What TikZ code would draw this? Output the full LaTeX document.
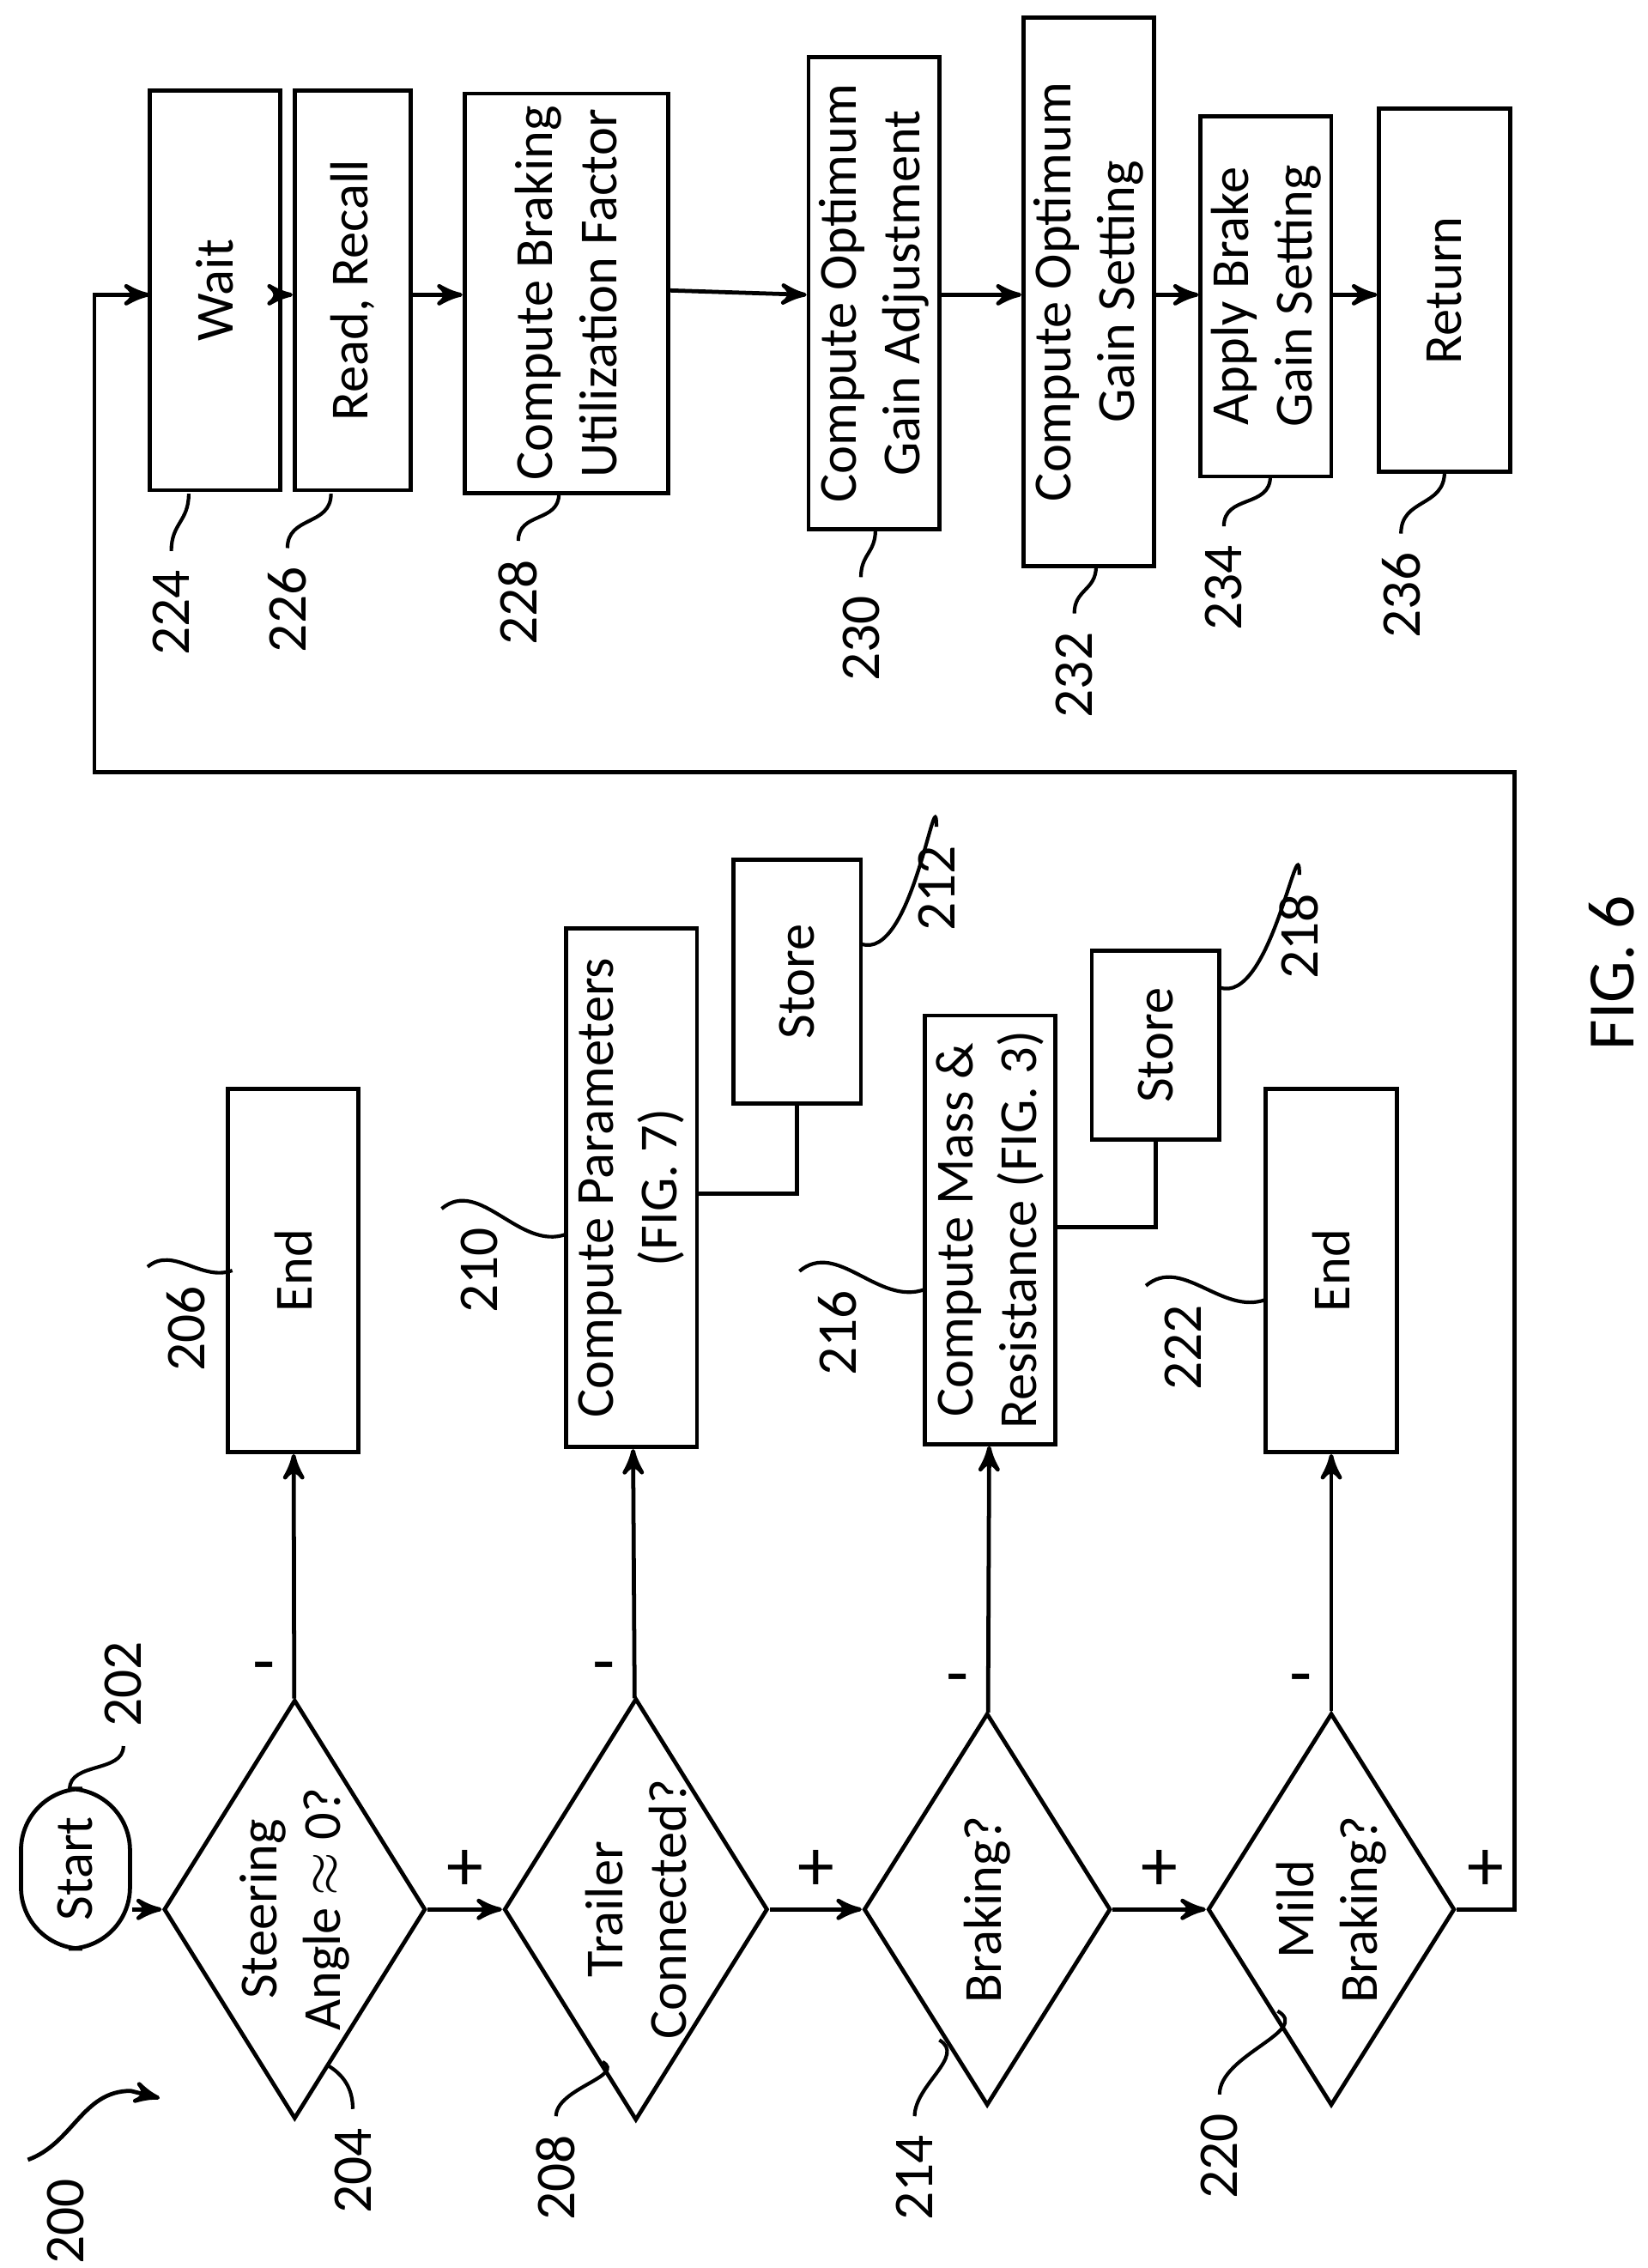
\documentclass[tikz,border=0pt]{standalone}
\usepackage{fontspec}
\setmainfont{Carlito}
\usetikzlibrary{arrows,shapes.geometric}

\tikzset{
  box/.style={draw, rotate=90, align=center, inner sep=2pt},
  dec/.style={draw, diamond, rotate=90, align=center, inner sep=0pt, aspect=1.6,
    minimum width=2.7cm, minimum height=1.7cm},
  lbl/.style={rotate=90, font=\fontsize{11}{13}\selectfont},
  lead/.style={-, line width=0.7pt},
}

\begin{document}
\begin{tikzpicture}[x=0.01cm, y=-0.01cm, ->, >=stealth', line width=0.8pt,
  font=\fontsize{10.5}{12.5}\selectfont]
	\useasboundingbox (0,0) rectangle (1135,1562);
	% left column
	\node[box, rounded corners=12pt, minimum width=1.1cm, minimum height=0.75cm] (start) at (52,1287) {Start};
	\node[dec] (d204) at (203,1315) {Steering\\Angle $\approx$ 0?};
	\node[dec] (d208) at (438,1315) {Trailer\\Connected?};
	\node[dec] (d214) at (680,1315) {Braking?};
	\node[dec] (d220) at (917,1315) {Mild\\Braking?};
	\node[box, minimum width=2.5cm, minimum height=0.9cm] (e206) at (202,875) {End};
	\node[box, minimum width=3.57cm, minimum height=0.9cm] (c210) at (435,818) {Compute Parameters\\(FIG. 7)};
	\node[box, minimum width=1.68cm, minimum height=0.88cm] (s212) at (549,676) {Store};
	\node[box, minimum width=2.95cm, minimum height=0.9cm] (c216) at (682,847) {Compute Mass \&\\Resistance (FIG. 3)};
	\node[box, minimum width=1.3cm, minimum height=0.88cm] (s218) at (796,720) {Store};
	\node[box, minimum width=2.5cm, minimum height=0.9cm] (e222) at (917,875) {End};

	\draw[->] (start.south |- d204.north) -- (d204.north);
	\draw[->] (d204) -- node[above, font=\Large] {+} (d208);
	\draw[->] (d208) -- node[above, font=\Large] {+} (d214);
	\draw[->] (d214) -- node[above, font=\Large] {+} (d220);
	\draw[->] (d204) -- node[pos=0.1, left, font=\Large] {-} (e206);
	\draw[->] (d208) -- node[pos=0.1, left, font=\Large] {-} (c210);
	\draw[->] (d214) -- node[pos=0.1, left, font=\Large] {-} (c216);
	\draw[->] (d220) -- node[pos=0.1, left, font=\Large] {-} (e222);
	\draw[-] (s212.west) -- (s212.west |- 0,822) -- (c210.south |- 0,822);
	\draw[-] (s218.west) -- (s218.west |- 0,845) -- (c216.south |- 0,845);
	\draw[->] (d220.south) -- node[above, font=\Large] {+} (1043,1315) -- (1043,532) -- (65,532) -- (65,203) -- (103,203);

	% right column
	\node[box, minimum width=2.75cm, minimum height=0.9cm] (w224) at (148,200) {Wait};
	\node[box, minimum width=2.75cm, minimum height=0.8cm] (r226) at (243,200) {Read, Recall};
	\node[box, minimum width=2.75cm, minimum height=1.4cm] (c228) at (390,202) {Compute Braking\\Utilization Factor};
	\node[box, minimum width=3.25cm, minimum height=0.9cm] (c230) at (602,202) {Compute Optimum\\Gain Adjustment};
	\node[box, minimum width=3.78cm, minimum height=0.9cm] (c232) at (750,201) {Compute Optimum\\Gain Setting};
	\node[box, minimum width=2.48cm, minimum height=0.9cm] (a234) at (872,204) {Apply Brake\\Gain Setting};
	\node[box, minimum width=2.5cm, minimum height=0.9cm] (r236) at (995,200) {Return};

	\draw[->] (w224.south |- 0,203) -- (r226.north |- 0,203);
	\draw[->] (r226.south |- 0,203) -- (c228.north |- 0,203);
	\draw[->] (c228.south |- 0,200) -- (c230.north |- 0,203);
	\draw[->] (c230.south |- 0,203) -- (c232.north |- 0,203);
	\draw[->] (c232.south |- 0,203) -- (a234.north |- 0,203);
	\draw[->] (a234.south |- 0,203) -- (r236.north |- 0,203);

	% reference numerals
	\node[lbl] (n224) at (118,422) {224};
	\node[lbl] (n226) at (198,420) {226};
	\node[lbl] (n228) at (357,415) {228};
	\node[lbl] (n230) at (593,440) {230};
	\node[lbl] (n232) at (740,465) {232};
	\node[lbl] (n234) at (843,405) {234};
	\node[lbl] (n236) at (965,410) {236};
	\draw[lead] (n224.east) to[out=90, in=-90, looseness=1.2] (130,340);
	\draw[lead] (n226.east) to[out=90, in=-90, looseness=1.2] (228,340);
	\draw[lead] (n228.east) to[out=90, in=-90, looseness=1.2] (385,340);
	\draw[lead] (n230.east) to[out=90, in=-90, looseness=1.2] (603,365);
	\draw[lead] (n232.east) to[out=90, in=-90, looseness=1.2] (755,390);
	\draw[lead] (n234.east) to[out=90, in=-90, looseness=1.2] (875,328);
	\draw[lead] (n236.east) to[out=90, in=-90, looseness=1.2] (995,325);

	\node[lbl] (n200) at (45,1530) {200};
	\node[lbl] (n202) at (85,1160) {202};
	\node[lbl] (n204) at (243,1495) {204};
	\node[lbl] (n208) at (383,1500) {208};
	\node[lbl] (n214) at (630,1500) {214};
	\node[lbl] (n220) at (840,1485) {220};
	\node[lbl] (n206) at (128,915) {206};
	\node[lbl] (n210) at (330,875) {210};
	\node[lbl] (n216) at (577,918) {216};
	\node[lbl] (n222) at (815,928) {222};
	\node[lbl] (n212) at (645,612) {212};
	\node[lbl] (n218) at (895,645) {218};
	\draw[->] (n200.north east) to[out=20, in=180] (90,1440) -- (110,1445);
	\draw[lead] (n202.west) to[out=-90, in=90] (48,1232);
	\draw[lead] (n204.east) to[out=90, in=-30] (225,1422);
	\draw[lead] (n208.east) to[out=90, in=-30] (415,1420);
	\draw[lead] (n214.east) to[out=90, in=-30] (647,1405);
	\draw[lead] (n220.east) to[out=90, in=-30] (880,1385);
	\draw[lead] (n206.north east) to[out=40, in=200] (160,875);
	\draw[lead] (n210.north east) to[out=40, in=200] (390,850);
	\draw[lead] (n216.north east) to[out=40, in=200] (637,888);
	\draw[lead] (n222.north east) to[out=40, in=200] (872,895);
	\draw[lead] (n212.east) to[out=90, in=-20] (593,650);
	\draw[lead] (n218.east) to[out=90, in=-20] (840,680);

	\node[rotate=90, font=\fontsize{13}{15}\selectfont] (fig) at (1110,670) {FIG. 6};
\end{tikzpicture}
\end{document}
